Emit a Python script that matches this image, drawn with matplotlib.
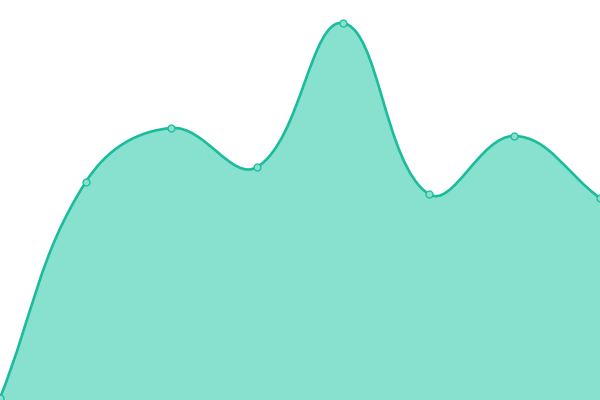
import numpy as np
import matplotlib
matplotlib.use("Agg")
import matplotlib.pyplot as plt
from matplotlib.path import Path
from matplotlib.patches import PathPatch

# values (0..400 scale)
positions = [0, 1, 2, 3, 4, 5, 6, 7]
values = [2, 218, 272, 233, 377, 206, 264, 202]

line_color = "#1abc9c"
fill_color = "#88e0cf"
tension = 0.4

fig = plt.figure(figsize=(6, 4), dpi=100)
ax = fig.add_axes([0, 0, 1, 1])
ax.set_xlim(0, 7)
ax.set_ylim(0, 400)
ax.axis("off")

# spline control points (chart.js style), distances measured in pixels
x = np.array(positions, dtype=float)
y = np.array(values, dtype=float)
sx = 600 / 7.0
px, py = x * sx, y
n = len(x)
cp_prev = np.zeros((n, 2))
cp_next = np.zeros((n, 2))
for i in range(n):
    a = max(i - 1, 0)
    b = min(i + 1, n - 1)
    d01 = np.hypot(px[i] - px[a], py[i] - py[a])
    d12 = np.hypot(px[b] - px[i], py[b] - py[i])
    s01 = d01 / (d01 + d12) if d01 + d12 else 0
    s12 = d12 / (d01 + d12) if d01 + d12 else 0
    fa, fb = tension * s01, tension * s12
    dx, dy = px[b] - px[a], py[b] - py[a]
    cp_prev[i] = (px[i] - fa * dx, py[i] - fa * dy)
    cp_next[i] = (px[i] + fb * dx, py[i] + fb * dy)

verts = [(x[0], y[0])]
codes = [Path.MOVETO]
for i in range(n - 1):
    verts += [(cp_next[i][0] / sx, cp_next[i][1]),
              (cp_prev[i + 1][0] / sx, cp_prev[i + 1][1]),
              (x[i + 1], y[i + 1])]
    codes += [Path.CURVE4] * 3

line_path = Path(verts, codes)
fill_path = Path(verts + [(x[-1], 0), (x[0], 0), (x[0], y[0])],
                 codes + [Path.LINETO, Path.LINETO, Path.CLOSEPOLY])

ax.add_patch(PathPatch(fill_path, facecolor=fill_color, edgecolor="none"))
ax.add_patch(PathPatch(line_path, facecolor="none", edgecolor=line_color, linewidth=1.9))
ax.plot(x, y, linestyle="none", marker="o", markersize=5,
        markerfacecolor=fill_color, markeredgecolor=line_color, markeredgewidth=0.9)

fig.savefig("out.png", dpi=100)
